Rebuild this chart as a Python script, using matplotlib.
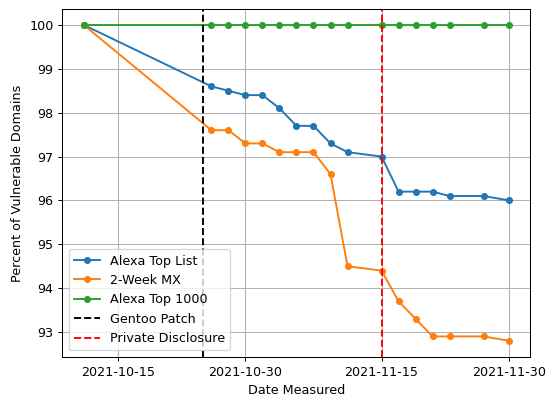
import numpy as np
import matplotlib
matplotlib.use("Agg")
import matplotlib.pyplot as plt
import matplotlib.dates as mdates

dates = np.array(["2021-10-11", "2021-10-26", "2021-10-28", "2021-10-30",
                  "2021-11-01", "2021-11-03", "2021-11-05", "2021-11-07",
                  "2021-11-09", "2021-11-11", "2021-11-15", "2021-11-17",
                  "2021-11-19", "2021-11-21", "2021-11-23", "2021-11-27",
                  "2021-11-30"], dtype="datetime64[D]")

alexa_top = [100, 98.6, 98.5, 98.4, 98.4, 98.1, 97.7, 97.7, 97.3, 97.1,
             97.0, 96.2, 96.2, 96.2, 96.1, 96.1, 96.0]
two_week_mx = [100, 97.6, 97.6, 97.3, 97.3, 97.1, 97.1, 97.1, 96.6, 94.5,
               94.4, 93.7, 93.3, 92.9, 92.9, 92.9, 92.8]
alexa_1000 = [100] * 17

gentoo_patch = np.datetime64("2021-10-25")
private_disclosure = np.datetime64("2021-11-15")
xticks = np.array(["2021-10-15", "2021-10-30", "2021-11-15", "2021-11-30"],
                  dtype="datetime64[D]")

# 548x398 px at 92 dpi
fig, ax = plt.subplots(figsize=(548 / 92, 398 / 92), dpi=92)
fig.subplots_adjust(left=0.114, right=0.968, top=0.977, bottom=0.104)
ax.plot(dates, alexa_top, "o-", ms=4.5, label="Alexa Top List")
ax.plot(dates, two_week_mx, "o-", ms=4.5, label="2-Week MX")
ax.plot(dates, alexa_1000, "o-", ms=4.5, label="Alexa Top 1000")
ax.axvline(gentoo_patch, color="k", ls="--", label="Gentoo Patch")
ax.axvline(private_disclosure, color="r", ls="--", label="Private Disclosure")

ax.set_xticks(xticks)
ax.xaxis.set_major_formatter(mdates.DateFormatter("%Y-%m-%d"))
ax.set_xlabel("Date Measured")
ax.set_ylabel("Percent of Vulnerable Domains")
ax.grid(True)
ax.legend(loc="lower left")

plt.savefig("out.png")
